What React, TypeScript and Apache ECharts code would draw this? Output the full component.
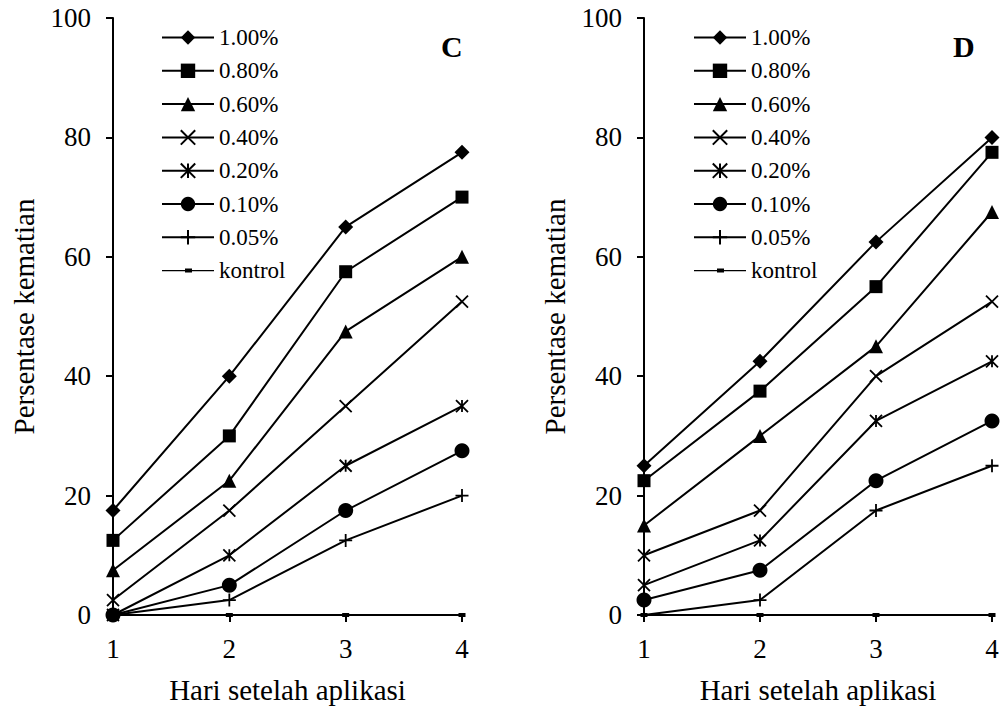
import React, { useEffect, useRef } from "react";
import * as echarts from "echarts";

const days = [1, 2, 3, 4];
const seriesNames = ["1.00%", "0.80%", "0.60%", "0.40%", "0.20%", "0.10%", "0.05%", "kontrol"];
const yTicks = [0, 20, 40, 60, 80, 100];

const valuesC = [
  [17.5, 40, 65, 77.5],
  [12.5, 30, 57.5, 70],
  [7.5, 22.5, 47.5, 60],
  [2.5, 17.5, 35, 52.5],
  [0, 10, 25, 35],
  [0, 5, 17.5, 27.5],
  [0, 2.5, 12.5, 20],
  [0, 0, 0, 0],
];

const valuesD = [
  [25, 42.5, 62.5, 80],
  [22.5, 37.5, 55, 77.5],
  [15, 30, 45, 67.5],
  [10, 17.5, 40, 52.5],
  [5, 12.5, 32.5, 42.5],
  [2.5, 7.5, 22.5, 32.5],
  [0, 2.5, 17.5, 25],
  [0, 0, 0, 0],
];

const panelLabels = ["C", "D"];
const xTitle = "Hari setelah aplikasi";
const yTitle = "Persentase kematian";

const FONT = "Liberation Serif, serif";

const symbols: any[] = [
  { symbol: "diamond", size: 15, border: 0 },
  { symbol: "rect", size: 13, border: 0 },
  { symbol: "triangle", size: 14, border: 0 },
  { symbol: "path://M0,0L10,10M10,0L0,10", size: 12, border: 1.8 },
  { symbol: "path://M0,0L10,10M10,0L0,10M5,0L5,10", size: 12, border: 1.8 },
  { symbol: "circle", size: 15, border: 0 },
  { symbol: "path://M5,0L5,10M0,5L10,5", size: 13, border: 1.8 },
  { symbol: "path://M0,0H7V4H0Z", size: 7, border: 0, keep: true },
];

const kontrolIcon =
  "path://M0,0H0.01V0.01H0Z M0,8.3H52V9.7H0Z M23,7H30V11H23Z M51.99,17.99H52V18H51.99Z";

export default function App() {
  const ref = useRef<HTMLDivElement>(null);
  useEffect(() => {
    const chart = echarts.init(ref.current!, null, { renderer: "svg" });
    const grids = [
      { left: 113, right: 541, top: 18, bottom: 96 },
      { left: 644, right: 11, top: 18, bottom: 96 },
    ];
    const axisCommon = {
      axisLine: { lineStyle: { color: "#000", width: 2 } },
      axisTick: { show: true, inside: false, length: 7, lineStyle: { color: "#000", width: 2 } },
      splitLine: { show: false },
    };
    const xAxes = grids.map((_, i) => ({
      type: "value",
      gridIndex: i,
      min: 1,
      max: 4,
      interval: 1,
      ...axisCommon,
      axisLabel: { color: "#000", fontFamily: FONT, fontSize: 27, margin: 20 },
      name: xTitle,
      nameLocation: "middle",
      nameGap: 60,
      nameTextStyle: { color: "#000", fontFamily: FONT, fontSize: 29 },
    }));
    const yAxes = grids.map((_, i) => ({
      type: "value",
      gridIndex: i,
      min: yTicks[0],
      max: yTicks[yTicks.length - 1],
      interval: 20,
      ...axisCommon,
      axisLabel: { color: "#000", fontFamily: FONT, fontSize: 27, margin: 22 },
      name: yTitle,
      nameLocation: "middle",
      nameRotate: 90,
      nameGap: 75,
      nameTextStyle: { color: "#000", fontFamily: FONT, fontSize: 29 },
    }));
    const series: any[] = [];
    [valuesC, valuesD].forEach((vals, gi) => {
      vals.forEach((arr, si) => {
        const s = symbols[si];
        series.push({
          type: "line",
          name: seriesNames[si],
          xAxisIndex: gi,
          yAxisIndex: gi,
          data: arr.map((v, k) => [days[k], v]),
          symbol: s.symbol,
          symbolSize: s.size,
          symbolKeepAspect: !!s.keep,
          showAllSymbol: true,
          clip: false,
          lineStyle: { color: "#000", width: 2 },
          itemStyle: { color: "#000", borderColor: "#000", borderWidth: s.border },
        });
      });
    });
    const legendData = seriesNames.map((n, i) =>
      i === seriesNames.length - 1 ? { name: n, icon: kontrolIcon } : { name: n }
    );
    const legends = [156, 688].map((left) => ({
      orient: "vertical",
      left,
      top: 21,
      itemWidth: 52,
      itemHeight: 18,
      itemGap: 10.3,
      selectedMode: false,
      data: legendData,
      textStyle: { color: "#000", fontFamily: FONT, fontSize: 23, lineHeight: 23 },
    }));
    chart.setOption({
      animation: false,
      backgroundColor: "#fff",
      grid: grids,
      xAxis: xAxes,
      yAxis: yAxes,
      legend: legends,
      series,
      graphic: [
        {
          type: "text",
          left: 441,
          top: 31,
          style: { text: panelLabels[0], font: `bold 30px ${FONT}`, fill: "#000" },
        },
        {
          type: "text",
          left: 953,
          top: 31,
          style: { text: panelLabels[1], font: `bold 30px ${FONT}`, fill: "#000" },
        },
      ],
    });
    return () => chart.dispose();
  }, []);
  return (
    <div
      ref={ref}
      style={{ position: "absolute", left: 0, top: 0, width: 1003, height: 711 }}
    />
  );
}
